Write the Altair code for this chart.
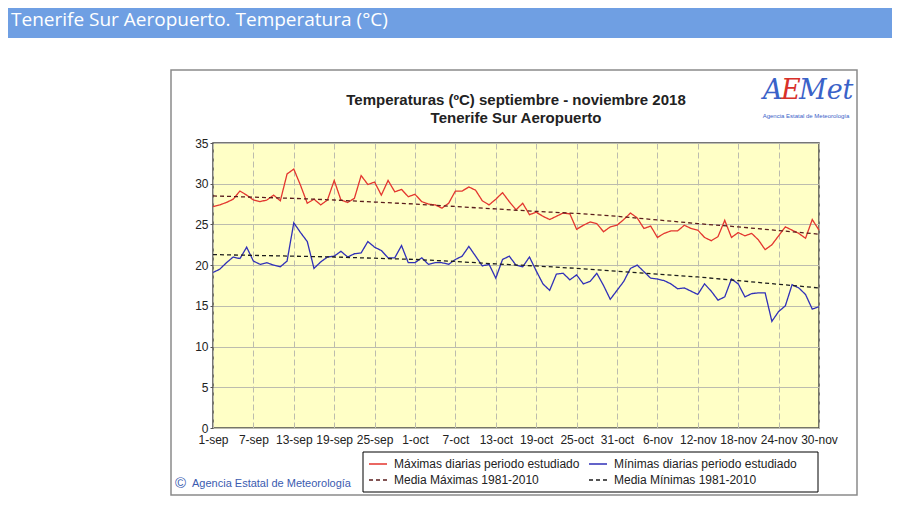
import altair as alt
import pandas as pd

# ---------------- data ----------------
tick_days = [0, 6, 12, 18, 24, 30, 36, 42, 48, 54, 60, 66, 72, 78, 84, 90]
tick_labels = ["1-sep", "7-sep", "13-sep", "19-sep", "25-sep", "1-oct", "7-oct", "13-oct",
               "19-oct", "25-oct", "31-oct", "6-nov", "12-nov", "18-nov", "24-nov", "30-nov"]

max_temps = [27.2, 27.4, 27.7, 28.1, 29.1, 28.6, 28.0, 27.8, 28.0, 28.6,
             27.9, 31.2, 31.8, 29.8, 27.6, 28.1, 27.4, 28.0, 30.4, 28.0,
             27.7, 28.2, 31.0, 29.9, 30.2, 28.6, 30.4, 29.0, 29.3, 28.4,
             28.7, 27.8, 27.5, 27.4, 27.0, 27.6, 29.1, 29.1, 29.6, 29.2,
             27.9, 27.4, 28.1, 28.9, 27.8, 26.8, 27.6, 26.2, 26.5, 26.0,
             25.6, 26.0, 26.4, 26.3, 24.4, 24.9, 25.3, 25.1, 24.1, 24.7,
             24.9, 25.6, 26.4, 25.8, 24.5, 24.8, 23.4, 23.9, 24.2, 24.2,
             24.9, 24.5, 24.3, 23.4, 23.0, 23.5, 25.5, 23.4, 24.0, 23.6,
             23.9, 23.1, 21.9, 22.5, 23.6, 24.7, 24.3, 23.9, 23.3, 25.6,
             24.3]

min_temps = [19.1, 19.5, 20.3, 21.0, 20.8, 22.2, 20.5, 20.1, 20.3, 20.0,
             19.8, 20.5, 25.2, 24.0, 22.9, 19.6, 20.4, 21.0, 21.1, 21.7,
             21.0, 21.4, 21.5, 22.9, 22.2, 21.8, 20.9, 20.9, 22.4, 20.3,
             20.3, 20.9, 20.1, 20.3, 20.3, 20.1, 20.7, 21.1, 22.3, 21.1,
             19.9, 20.1, 18.4, 20.7, 21.1, 20.0, 19.8, 21.0, 19.3, 17.7,
             16.9, 18.9, 19.0, 18.2, 18.8, 17.7, 18.0, 19.0, 17.5, 15.8,
             16.9, 18.0, 19.6, 20.0, 19.2, 18.4, 18.3, 18.1, 17.7, 17.1,
             17.2, 16.8, 16.4, 17.7, 16.8, 15.7, 16.1, 18.3, 17.7, 16.1,
             16.5, 16.6, 16.6, 13.1, 14.3, 15.0, 17.6, 17.2, 16.4, 14.6,
             14.9]

mean_max = [28.5, 28.35, 28.2, 28.0, 27.75, 27.5, 27.2, 26.9, 26.6, 26.35,
            26.0, 25.55, 25.1, 24.7, 24.25, 23.8]
mean_min = [21.3, 21.2, 21.1, 21.0, 20.85, 20.7, 20.45, 20.15, 19.9, 19.6,
            19.25, 18.9, 18.55, 18.1, 17.65, 17.2]

MAXD = "Máximas diarias periodo estudiado"
MIND = "Mínimas diarias periodo estudiado"
MEDMAX = "Media Máximas 1981-2010"
MEDMIN = "Media Mínimas 1981-2010"
# legend fills column by column
series_names = [MAXD, MEDMAX, MIND, MEDMIN]
series_colors = ["#e3362f", "#5a1c1c", "#3030b8", "#1c1c1c"]
series_dash = [[1, 0], [4, 3], [1, 0], [4, 3]]

rows = []
for d, v in enumerate(max_temps):
    rows.append({"serie": MAXD, "dia": d, "temp": v})
for d, v in enumerate(min_temps):
    rows.append({"serie": MIND, "dia": d, "temp": v})
for d, v in zip(tick_days, mean_max):
    rows.append({"serie": MEDMAX, "dia": d, "temp": v})
for d, v in zip(tick_days, mean_min):
    rows.append({"serie": MEDMIN, "dia": d, "temp": v})
df = pd.DataFrame(rows)

labels_js = "[" + ",".join("'" + l + "'" for l in tick_labels) + "]"
label_expr = labels_js + "[round(datum.value / 6)]"

FONT = "Liberation Sans"

legend = alt.Legend(
    title=None, orient="none", legendX=153, legendY=309, columns=2,
    symbolType="stroke", symbolSize=324, symbolStrokeWidth=1.5,
    labelFont=FONT, labelFontSize=12, labelColor="#222", labelOffset=6, labelLimit=300,
    padding=2, rowPadding=0, columnPadding=6,
)

lines = alt.Chart(df).mark_line(strokeWidth=1.3).encode(
    x=alt.X("dia:Q", scale=alt.Scale(domain=[0, 90], nice=False, zero=False),
            axis=alt.Axis(values=tick_days, labelExpr=label_expr, title=None, grid=True,
                          gridDash=[6, 3], ticks=False, domain=False, labelOverlap=False,
                          labelFlush=False, labelBound=False, labelPadding=6, labelFontSize=12,
                          labelFont=FONT, labelColor="#222")),
    y=alt.Y("temp:Q", scale=alt.Scale(domain=[0, 35], nice=False, zero=True),
            axis=alt.Axis(values=list(range(0, 36, 5)), title=None, grid=True, domain=False,
                          tickSize=3, tickColor="#555", labelPadding=2, labelFontSize=12,
                          labelFont=FONT, labelColor="#222")),
    color=alt.Color("serie:N", scale=alt.Scale(domain=series_names, range=series_colors),
                    legend=legend),
    strokeDash=alt.StrokeDash("serie:N", scale=alt.Scale(domain=series_names, range=series_dash),
                              legend=legend),
)

one = pd.DataFrame({"k": [0]})

def txt(text, x, y, size, color="#222", weight="normal", font=FONT, align="center", style="normal"):
    return alt.Chart(one).mark_text(
        text=text, fontSize=size, color=color, fontWeight=weight, font=font, align=align,
        baseline="middle", fontStyle=style,
    ).encode(x=alt.value(x), y=alt.value(y))

# decorations (plot origin is at page pixel (213,143))
header_bar = alt.Chart(one).mark_rect(color="#6f9fe3").encode(
    x=alt.value(-205), x2=alt.value(679), y=alt.value(-135), y2=alt.value(-105))
header_text = txt("Tenerife Sur Aeropuerto. Temperatura (°C)", -202, -123, 19, color="#ffffff",
                  font="Open Sans", align="left")
outer_box = alt.Chart(one).mark_rect(fillOpacity=0, stroke="#8a8a8a", strokeWidth=1.5).encode(
    x=alt.value(-42), x2=alt.value(644), y=alt.value(-73), y2=alt.value(352))
legend_box = alt.Chart(one).mark_rect(fill="#ffffff", stroke="#000000", strokeWidth=1).encode(
    x=alt.value(150), x2=alt.value(605), y=alt.value(309), y2=alt.value(349))

title1 = txt("Temperaturas (ºC) septiembre - noviembre 2018", 303, -43, 15, weight="bold")
title2 = txt("Tenerife Sur Aeropuerto", 303, -25, 15, weight="bold")

logo_a = txt("A", 550, -52, 27, color="#3a62c8", font="DejaVu Serif", align="left", style="italic")
logo_e = txt("E", 568, -52, 27, color="#d8302a", font="DejaVu Serif", align="left", style="italic")
logo_m = txt("Met", 586, -52, 27, color="#3a62c8", font="DejaVu Serif", align="left", style="italic")
logo_t = txt("Agencia Estatal de Meteorología", 593, -27, 6, color="#3a62c8")

copy_c = txt("©", -38, 340, 15, color="#3a5bb0", align="left")
copy_t = txt("Agencia Estatal de Meteorología", -21, 341, 11, color="#3a5bb0", align="left")

chart = alt.layer(
    header_bar, header_text, outer_box, legend_box, title1, title2,
    logo_a, logo_e, logo_m, logo_t, copy_c, copy_t, lines,
).properties(
    width=606, height=285,
    padding={"left": 205, "top": 135, "right": 73, "bottom": 77},
    autosize=alt.AutoSizeParams(type="none"),
    background="#ffffff",
).configure_view(
    fill="#ffffc6", stroke="#4a4a4a", strokeWidth=1.5,
).configure_axis(
    gridColor="#bcbcae", gridWidth=1,
)

chart.save("out.html", embed_options={"renderer": "svg", "actions": False})
